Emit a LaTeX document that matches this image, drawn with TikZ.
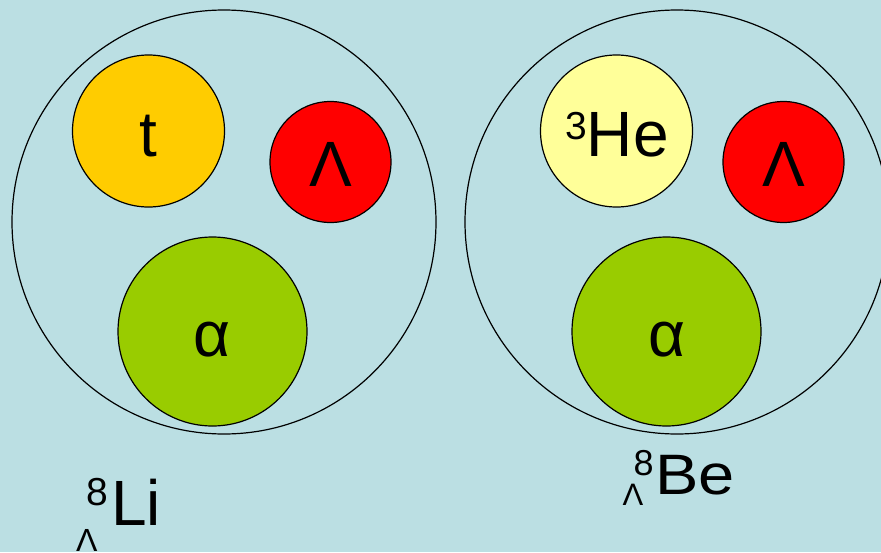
\documentclass[tikz,border=0pt]{standalone}
\usepackage{fontspec}
\setmainfont{Liberation Sans}
\definecolor{bgblue}{HTML}{BBDFE3}
\definecolor{tritonc}{HTML}{FFCC00}
\definecolor{lambdac}{HTML}{FF0000}
\definecolor{alphac}{HTML}{99CC00}
\definecolor{heliumc}{HTML}{FFFF99}
\newcommand{\fsz}[1]{\fontsize{#1}{#1}\selectfont}
\tikzset{
  ball/.style={circle, draw=black, line width=1.2pt, inner sep=0pt, minimum size=#1},
  shell/.style={circle, draw=black, line width=1.2pt, inner sep=0pt, minimum size=424},
  big/.style={font=\fsz{64}, inner sep=0pt, anchor=base},
  lab/.style={inner sep=0pt, anchor=base west},
}
\begin{document}
\begin{tikzpicture}[x=1pt,y=-1pt]
  \fill[bgblue] (0,0) rectangle (881,552);
  \useasboundingbox (0,0) rectangle (881,552);
  \begin{scope}
    \clip (0,0) rectangle (881,552);
    % hypernucleus shells
    \node[shell] (shellL) at (224,222) {};
    \node[shell] (shellR) at (677,222) {};
    % clusters of the left hypernucleus
    \node[ball=152, fill=tritonc] (tL) at (148.5,131) {};
    \node[ball=121, fill=lambdac] (lamL) at (330.5,162) {};
    \node[ball=189, fill=alphac] (alpL) at (212.5,331.5) {};
    % clusters of the right hypernucleus
    \node[ball=152, fill=heliumc] (heR) at (616.5,131) {};
    \node[ball=121, fill=lambdac] (lamR) at (783.5,162) {};
    \node[ball=189, fill=alphac] (alpR) at (666.5,331.5) {};
  \end{scope}
  % cluster names
  \node[big] (tname) at (148.5,156) {t};
  \node[big] (lamLname) at (331,186) {Λ};
  \node[big] (alpLname) at (212,356) {α};
  \node[big] (hename) at (617,156) {\raisebox{17pt}{\fsz{39}3}He};
  \node[big] (lamRname) at (783.5,186) {Λ};
  \node[big] (alpRname) at (666.5,356) {α};
  % hypernucleus names
  \node[lab, font=\fsz{32}] (subL) at (76,551.5) {Λ};
  \node[lab, font=\fsz{39}] (supL) at (86,505) {8};
  \node[lab, font=\fsz{64}] (nameL) at (111,525) {Li};
  \node[lab, font=\fsz{31}] (subR) at (622.5,505) {Λ};
  \node[lab, font=\fsz{36}] (supR) at (633.5,475) {8};
  \node[lab, font=\fsz{57}] (nameR) at (655,494) {\scalebox{1.14}[1]{Be}};
\end{tikzpicture}
\end{document}
